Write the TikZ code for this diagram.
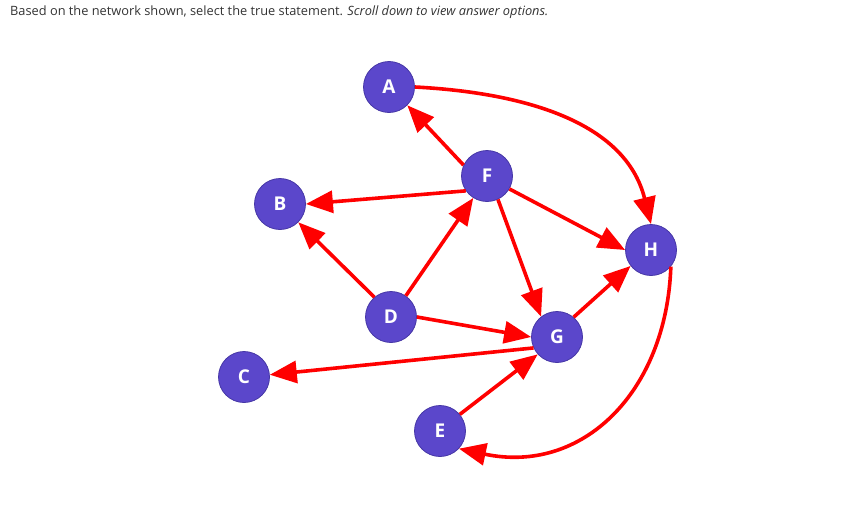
\documentclass[tikz,border=0pt]{standalone}
\usepackage{fontspec}
\setmainfont{Open Sans}
\usetikzlibrary{arrows.meta}
\definecolor{nodefill}{HTML}{5B47CB}
\definecolor{nodeedge}{HTML}{4637A6}
\definecolor{txt}{HTML}{333333}
\begin{document}
\begin{tikzpicture}[x=1pt,y=-1pt,
  vtx/.style={circle,fill=nodefill,draw=nodeedge,line width=0.8pt,minimum size=51pt,inner sep=0pt,
    text=white,font=\fontsize{19}{19}\selectfont\bfseries},
  edge/.style={draw=red,line width=3.6pt,-{Triangle[length=27pt,width=22pt]}}]
\useasboundingbox (0,0) rectangle (850,511);
\node[anchor=west,text=txt,font=\fontsize{12.8}{14}\selectfont,inner sep=0pt] (title) at (10,12)
  {Based on the network shown, select the true statement. \textit{Scroll down to view answer options.}};
\node[vtx] (A) at (389,87) {A};
\node[vtx] (F) at (487,176) {F};
\node[vtx] (B) at (280,204) {B};
\node[vtx] (H) at (651,250) {H};
\node[vtx] (D) at (391,317) {D};
\node[vtx] (G) at (557,337) {G};
\node[vtx] (C) at (244,377) {C};
\node[vtx] (E) at (440,431) {E};
\path[edge] (A.0) to[out=-3,in=104,looseness=1.0] (H.90);
\path[edge] (F.155) -- (A.-45);
\path[edge] (F.215) -- (B.0);
\path[edge] (F.330) -- (H.180);
\path[edge] (F.295) -- (G.128);
\path[edge] (D.130) -- (B.-45);
\path[edge] (D.55) -- (F.238);
\path[edge] (D.0) -- (G.180);
\path[edge] (G.50) -- (H.218);
\path[edge] (G.205) -- (C.5);
\path[edge] (E.40) -- (G.222);
\path[edge] (H.-40) to[out=-92,in=-12,looseness=1.15] (E.-43);
\end{tikzpicture}
\end{document}
